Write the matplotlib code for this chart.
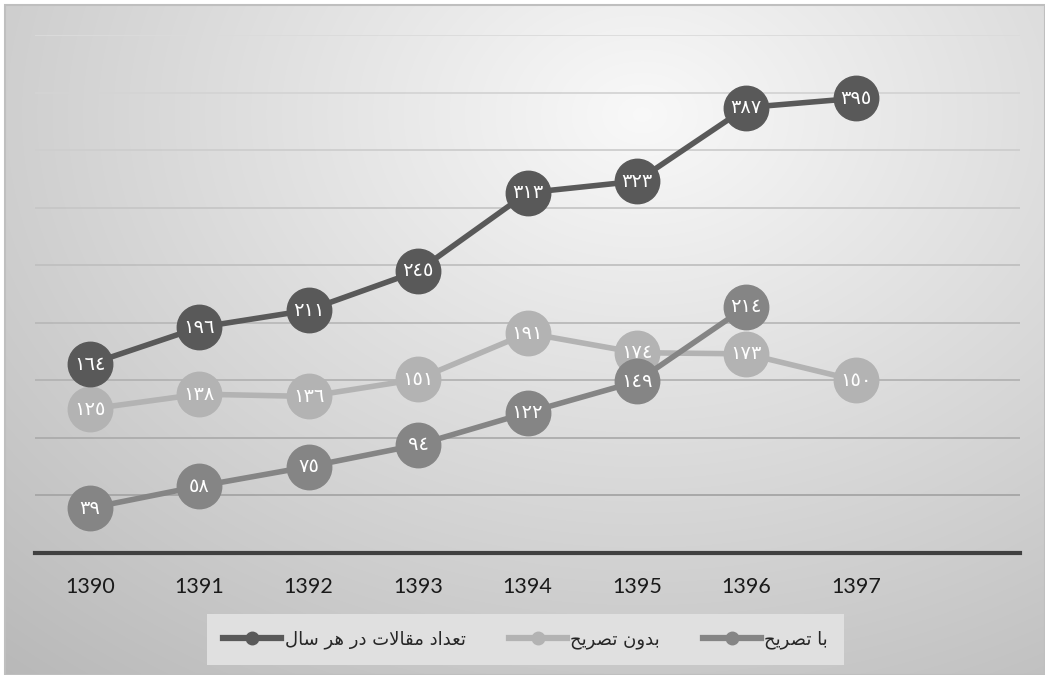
import numpy as np
import matplotlib

matplotlib.use("Agg")
import matplotlib.pyplot as plt
from matplotlib.patches import Rectangle

years = ["1390", "1391", "1392", "1393", "1394", "1395", "1396", "1397"]
total_articles = [164, 196, 211, 245, 313, 323, 387, 395]
without_mention = [125, 138, 136, 151, 191, 174, 173, 150]
with_mention = [39, 58, 75, 94, 122, 149, 214]

label_total = "تعداد مقالات در هر سال"
label_without = "بدون تصریح"
label_with = "با تصریح"

# presentation forms: isolated, final, initial, medial
FORMS = {
    "ا": ("\uFE8D", "\uFE8E", None, None),
    "ب": ("\uFE8F", "\uFE90", "\uFE91", "\uFE92"),
    "ت": ("\uFE95", "\uFE96", "\uFE97", "\uFE98"),
    "ح": ("\uFEA1", "\uFEA2", "\uFEA3", "\uFEA4"),
    "د": ("\uFEA9", "\uFEAA", None, None),
    "ر": ("\uFEAD", "\uFEAE", None, None),
    "س": ("\uFEB1", "\uFEB2", "\uFEB3", "\uFEB4"),
    "ص": ("\uFEB9", "\uFEBA", "\uFEBB", "\uFEBC"),
    "ع": ("\uFEC9", "\uFECA", "\uFECB", "\uFECC"),
    "ق": ("\uFED5", "\uFED6", "\uFED7", "\uFED8"),
    "ل": ("\uFEDD", "\uFEDE", "\uFEDF", "\uFEE0"),
    "م": ("\uFEE1", "\uFEE2", "\uFEE3", "\uFEE4"),
    "ن": ("\uFEE5", "\uFEE6", "\uFEE7", "\uFEE8"),
    "ه": ("\uFEE9", "\uFEEA", "\uFEEB", "\uFEEC"),
    "و": ("\uFEED", "\uFEEE", None, None),
    "ی": ("\uFBFC", "\uFBFD", "\uFBFE", "\uFBFF"),
}


def joins_forward(c):
    return c in FORMS and FORMS[c][2] is not None


def shape_rtl(text):
    out = []
    i = 0
    while i < len(text):
        c = text[i]
        if c not in FORMS:
            out.append(c)
            i += 1
            continue
        p = i > 0 and joins_forward(text[i - 1])
        if c == "ل" and i + 1 < len(text) and text[i + 1] == "ا":
            out.append("\uFEFC" if p else "\uFEFB")
            i += 2
            continue
        nxt = text[i + 1] if i + 1 < len(text) else ""
        n = joins_forward(c) and nxt in FORMS
        iso, fin, ini, med = FORMS[c]
        out.append(med if p and n else fin if p else ini if n else iso)
        i += 1
    return "".join(reversed(out))


def to_arabic_digits(v):
    return "".join(chr(0x0660 + int(d)) for d in str(v))


W, H = 1045, 675
fig = plt.figure(figsize=(W / 100, H / 100), dpi=100)
fig.patch.set_facecolor("white")

# radial gradient background
bg = fig.add_axes([5 / W, 0, 1 - 5 / W, 1 - 5 / H], zorder=-10)
yy, xx = np.mgrid[0:H, 0:W]
r = np.sqrt(((xx - 640) / 900.0) ** 2 + ((yy - 110) / 680.0) ** 2)
shade = 0.975 - 0.23 * np.clip(r, 0, 1.2)
bg.imshow(np.dstack([shade] * 3).clip(0, 1), aspect="auto", extent=[0, 1, 0, 1])
bg.set_axis_off()
fig.add_artist(Rectangle((5 / W, 0), 1 - 5 / W, 1 - 5 / H, transform=fig.transFigure,
                         fill=False, edgecolor="#bfbfbf", linewidth=1.5))

ax = fig.add_axes([35 / W, (H - 553) / H, 985 / W, (553 - 35) / H])
ax.set_facecolor("none")
x = np.arange(len(years))

series = [
    (without_mention, "#b3b3b3", label_without, 2),
    (with_mention, "#858585", label_with, 3),
    (total_articles, "#595959", label_total, 4),
]
colors = {}
for values, color, label, z in series:
    xs = x[:len(values)]
    ax.plot(xs, values, color=color, linewidth=4, marker="o", markersize=32,
            markerfacecolor=color, markeredgecolor=color, zorder=z)
    for xi, v in zip(xs, values):
        ax.text(xi, v, to_arabic_digits(v), ha="center", va="center", color="white",
                fontsize=14, family="DejaVu Sans", zorder=z + 0.5)
    colors[label] = color

ax.set_xlim(-0.5, 8.5)
ax.set_ylim(0, 450)
ax.set_yticks(np.arange(0, 451, 50))
ax.set_xticks(x)
ax.set_xticklabels(years, fontsize=15.5, family="Lato", color="#1a1a1a")
ax.tick_params(axis="x", length=0, pad=17)
ax.tick_params(axis="y", length=0, labelleft=False)
ax.grid(axis="y", linewidth=1.3)
for val, gl in zip(ax.get_yticks(), ax.get_ygridlines()):
    g = 0.62 + 0.24 * (val / 450)
    gl.set_color((g, g, g))
for s in ["top", "right", "left"]:
    ax.spines[s].set_visible(False)
ax.spines["bottom"].set_color("#404040")
ax.spines["bottom"].set_linewidth(3)

leg_handles = []
leg_labels = []
for label in [label_total, label_without, label_with]:
    color = colors[label]
    h, = ax.plot([], [], color=color, linewidth=4.5, marker="o", markersize=9,
                 markerfacecolor=color, markeredgecolor=color)
    leg_handles.append(h)
    leg_labels.append(shape_rtl(label))

leg = fig.legend(leg_handles, leg_labels, loc="center", bbox_to_anchor=(0.503, 0.052),
                 ncol=3, markerfirst=True, frameon=True, fancybox=False,
                 facecolor="#e0e0e0", edgecolor="none", framealpha=1,
                 prop={"family": "DejaVu Sans", "size": 13}, handlelength=3.2,
                 columnspacing=2.4, borderpad=0.75, borderaxespad=0, handletextpad=0.2)
leg._legend_box.pad = 0.0
for t in leg.get_texts():
    t.set_color("#262626")
leg.get_frame().set_boxstyle("square", pad=0.9)

fig.savefig("out.png", dpi=100)
